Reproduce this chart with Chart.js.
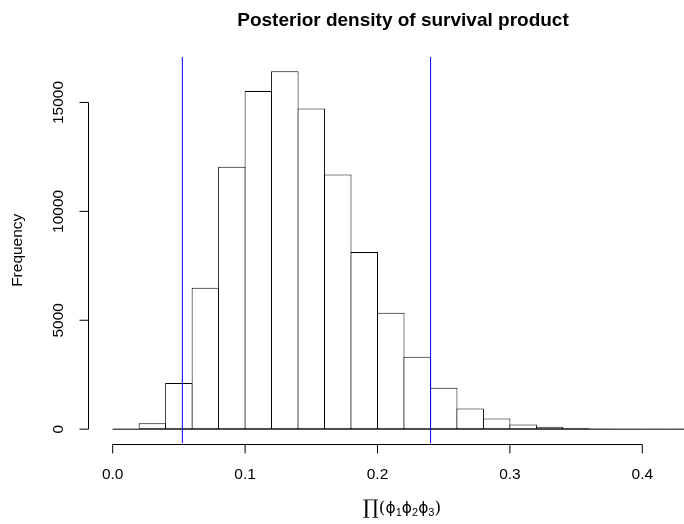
<!DOCTYPE html>
<html>
<head>
<meta charset="utf-8">
<script src="https://cdn.jsdelivr.net/npm/chart.js@4/dist/chart.umd.min.js"></script>
<style>
html, body { margin: 0; padding: 0; background: #fff; overflow: hidden; }
#wrap { width: 684px; height: 524px; }
</style>
</head>
<body>
<div id="wrap"><canvas id="c" width="684" height="524"></canvas></div>
<script>
// ---- data ----
const breaks = [0.00, 0.02, 0.04, 0.06, 0.08, 0.10, 0.12, 0.14, 0.16, 0.18, 0.20, 0.22,
                0.24, 0.26, 0.28, 0.30, 0.32, 0.34, 0.36, 0.38, 0.40, 0.42, 0.44];
const counts = [3, 276, 2117, 6488, 12045, 15525, 16430, 14725, 11690, 8140, 5340, 3320,
                1902, 951, 491, 215, 107, 40, 15, 5, 2, 1];
const ciLower = 0.0526;
const ciUpper = 0.2401;
const xTicks = [0.0, 0.1, 0.2, 0.3, 0.4];
const xTickLabels = ['0.0', '0.1', '0.2', '0.3', '0.4'];
const yTicks = [0, 5000, 10000, 15000];
const yTickLabels = ['0', '5000', '10000', '15000'];
const titleText = 'Posterior density of survival product';
const yLabelText = 'Frequency';

// ---- derived (R-style 4% axis extension) ----
const mids = counts.map((c, i) => (breaks[i] + breaks[i + 1]) / 2);
const yMaxCount = Math.max(...counts);
const yMin = -0.04 * yMaxCount;
const yMax = yMaxCount * 1.04;
const xRange = breaks[breaks.length - 1] - breaks[0];
const xMin = breaks[0] - 0.04 * xRange;

const FONT = '"Liberation Sans", Arial, Helvetica, sans-serif';
const PLOT_LEFT = 89.4, PLOT_TOP = 57, PLOT_BOTTOM = 443.5;
const PX_PER_UNIT = 1324;
const xMax = xMin + (684 - PLOT_LEFT) / PX_PER_UNIT;

const axesPlugin = {
  id: 'rAxes',
  afterDraw(chart) {
    const ctx = chart.ctx;
    const xs = chart.scales.x, ys = chart.scales.y;
    const area = chart.chartArea;
    ctx.save();
    ctx.strokeStyle = '#000';
    ctx.fillStyle = '#000';
    ctx.lineWidth = 1;
    // x axis
    const yAx = Math.round(area.bottom) + 0.5;
    const x0 = xs.getPixelForValue(xTicks[0]);
    const x1 = xs.getPixelForValue(xTicks[xTicks.length - 1]);
    ctx.beginPath();
    ctx.moveTo(x0, yAx); ctx.lineTo(x1, yAx);
    xTicks.forEach(v => {
      const px = xs.getPixelForValue(v);
      ctx.moveTo(px, yAx); ctx.lineTo(px, yAx + 9);
    });
    ctx.stroke();
    ctx.font = '15.5px ' + FONT;
    ctx.textAlign = 'center';
    ctx.textBaseline = 'middle';
    xTicks.forEach((v, i) => {
      ctx.fillText(xTickLabels[i], xs.getPixelForValue(v), yAx + 30);
    });
    // y axis
    const xAx = Math.round(area.left) - 0.5;
    const yA = ys.getPixelForValue(yTicks[0]);
    const yB = ys.getPixelForValue(yTicks[yTicks.length - 1]);
    ctx.beginPath();
    ctx.moveTo(xAx, yA); ctx.lineTo(xAx, yB);
    yTicks.forEach(v => {
      const py = ys.getPixelForValue(v);
      ctx.moveTo(xAx, py); ctx.lineTo(xAx - 9, py);
    });
    ctx.stroke();
    yTicks.forEach((v, i) => {
      const py = ys.getPixelForValue(v);
      ctx.save();
      ctx.translate(xAx - 30, py);
      ctx.rotate(-Math.PI / 2);
      ctx.fillText(yTickLabels[i], 0, 0);
      ctx.restore();
    });
    // y label
    ctx.save();
    ctx.translate(18, (area.top + area.bottom) / 2);
    ctx.rotate(-Math.PI / 2);
    ctx.fillText(yLabelText, 0, 0);
    ctx.restore();
    // title
    ctx.font = 'bold 19px ' + FONT;
    ctx.fillText(titleText, 403, 21);
    // x label: prod(phi1 phi2 phi3)
    const parts = [
      { t: '\u220F', f: '20px "DejaVu Serif", serif', dy: 0 },
      { t: '(', f: '17px "DejaVu Serif", serif', dy: 0 },
      { t: '\u03D5', f: '15.5px "DejaVu Sans", sans-serif', dy: 0 },
      { t: '1', f: '11px ' + FONT, dy: 4 },
      { t: '\u03D5', f: '15.5px "DejaVu Sans", sans-serif', dy: 0 },
      { t: '2', f: '11px ' + FONT, dy: 4 },
      { t: '\u03D5', f: '15.5px "DejaVu Sans", sans-serif', dy: 0 },
      { t: '3', f: '11px ' + FONT, dy: 4 },
      { t: ')', f: '17px "DejaVu Serif", serif', dy: 0 }
    ];
    ctx.textAlign = 'left';
    let total = 0;
    parts.forEach(p => { ctx.font = p.f; p.w = ctx.measureText(p.t).width; total += p.w; });
    let cx = 402 - total / 2;
    const cy = 509;
    parts.forEach(p => {
      ctx.font = p.f;
      ctx.fillText(p.t, cx, cy + p.dy);
      cx += p.w;
    });
    ctx.restore();
  }
};

new Chart(document.getElementById('c'), {
  data: {
    datasets: [
      {
        type: 'bar',
        data: mids.map((m, i) => ({ x: m, y: counts[i] })),
        backgroundColor: '#ffffff',
        borderColor: '#000000',
        borderWidth: 1,
        borderSkipped: false,
        barPercentage: 1.038,
        categoryPercentage: 1,
        order: 3
      },
      {
        type: 'line',
        data: breaks.map(b => ({ x: b, y: 0 })),
        borderColor: '#000000',
        borderWidth: 1,
        pointRadius: 0,
        order: 2
      },
      {
        type: 'line',
        data: [{ x: ciLower, y: yMin }, { x: ciLower, y: yMax }],
        borderColor: '#0000ff',
        borderWidth: 1,
        pointRadius: 0,
        order: 1
      },
      {
        type: 'line',
        data: [{ x: ciUpper, y: yMin }, { x: ciUpper, y: yMax }],
        borderColor: '#0000ff',
        borderWidth: 1,
        pointRadius: 0,
        order: 1
      }
    ]
  },
  options: {
    responsive: false,
    animation: false,
    events: [],
    layout: { padding: { left: PLOT_LEFT, right: 0, top: PLOT_TOP, bottom: 524 - PLOT_BOTTOM } },
    plugins: { legend: { display: false }, tooltip: { enabled: false }, title: { display: false } },
    scales: {
      x: { type: 'linear', min: xMin, max: xMax, display: false, offset: false },
      y: { type: 'linear', min: yMin, max: yMax, display: false }
    }
  },
  plugins: [axesPlugin]
});
</script>
</body>
</html>
